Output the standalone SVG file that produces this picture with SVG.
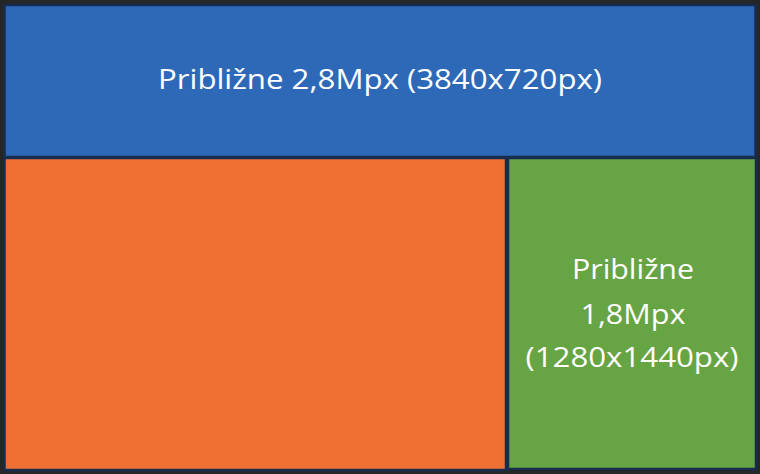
<svg xmlns="http://www.w3.org/2000/svg" width="760" height="474" viewBox="0 0 760 474">
<style>
.box{stroke:#172c4f;stroke-width:2.5}
.t{font-family:"Open Sans","Noto Sans",sans-serif;font-size:28px;fill:#ffffff;text-anchor:middle}
</style>
<rect x="0" y="0" width="760" height="474" fill="#262626"/>
<g id="top">
<rect class="box" x="4.5" y="5" width="751" height="152" fill="#2e69b8"/>
<text class="t" x="380" y="89" textLength="444" lengthAdjust="spacingAndGlyphs">Približne 2,8Mpx (3840x720px)</text>
</g>
<g id="left">
<rect class="box" x="4.5" y="158" width="501.5" height="312" fill="#f07033"/>
</g>
<g id="right">
<rect class="box" x="508" y="158" width="248" height="311" fill="#67a444"/>
<text class="t" x="633" y="279" textLength="122" lengthAdjust="spacingAndGlyphs">Približne</text>
<text class="t" x="633" y="324" textLength="105" lengthAdjust="spacingAndGlyphs">1,8Mpx</text>
<text class="t" x="632" y="367" textLength="213" lengthAdjust="spacingAndGlyphs">(1280x1440px)</text>
</g>
<g id="connectors"/>
</svg>
